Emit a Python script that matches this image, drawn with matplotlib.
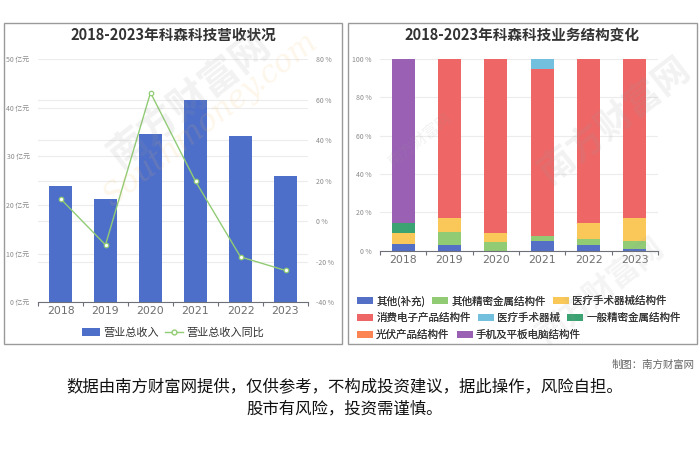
import matplotlib
matplotlib.use("Agg")
import matplotlib.pyplot as plt
from matplotlib.patches import Rectangle, Patch
from matplotlib.lines import Line2D
import numpy as np

plt.rcParams['font.family'] = ['Noto Sans CJK SC', 'DejaVu Sans']

years = ['2018', '2019', '2020', '2021', '2022', '2023']
revenue = [24.0, 21.2, 34.6, 41.5, 34.2, 25.9]      # 亿元
yoy = [11.1, -11.7, 63.4, 19.7, -17.6, -24.3]       # %

seg_names = ['其他(补充)', '其他精密金属结构件', '医疗手术器械结构件',
             '消费电子产品结构件', '医疗手术器械', '一般精密金属结构件',
             '光伏产品结构件', '手机及平板电脑结构件']
seg_colors = ['#5470c6', '#91cc75', '#fac858', '#ee6666',
              '#73c0de', '#3ba272', '#fc8452', '#9a60b4']
# share of revenue, %
other = [3.5, 3.0, 0.0, 4.9, 3.0, 1.0]
precision_other = [0.0, 6.7, 4.5, 2.9, 3.1, 4.0]
medical_parts = [5.7, 7.2, 4.5, 0.0, 8.2, 11.9]
consumer = [0.0, 83.1, 91.0, 86.8, 85.7, 83.1]
medical = [0.0, 0.0, 0.0, 5.4, 0.0, 0.0]
general = [5.4, 0.0, 0.0, 0.0, 0.0, 0.0]
pv = [0.0, 0.0, 0.0, 0.0, 0.0, 0.0]
phone = [85.4, 0.0, 0.0, 0.0, 0.0, 0.0]
segments = [other, precision_other, medical_parts, consumer, medical, general, pv, phone]

W, H = 700, 467
fig = plt.figure(figsize=(7, 4.67), dpi=100)


def px(x0, y0, x1, y1):
    # pixel box (top-left origin) -> figure fraction rect
    return [x0 / W, 1 - y1 / H, (x1 - x0) / W, (y1 - y0) / H]


# panel frames
for x0, x1 in [(4, 342), (348, 697)]:
    fig.patches.append(Rectangle((x0 / W, 1 - 344 / H), (x1 - x0) / W, (344 - 23) / H,
                                 transform=fig.transFigure, fill=False,
                                 edgecolor='#9a9a9a', linewidth=1.0))

fig.text(173 / W, 1 - 35 / H, '2018-2023年科森科技营收状况', ha='center', va='center',
         fontsize=10.5, fontweight='bold', color='#333333')
fig.text(522 / W, 1 - 35 / H, '2018-2023年科森科技业务结构变化', ha='center', va='center',
         fontsize=10.5, fontweight='bold', color='#333333')

x = np.arange(len(years))
axis_c = '#6e7079'
lab_c = '#8a8a8a'


def style_cat_axis(ax):
    for s in ['top', 'right', 'left']:
        ax.spines[s].set_visible(False)
    ax.spines['bottom'].set_color(axis_c)
    ax.spines['bottom'].set_linewidth(0.8)
    ax.set_xlim(-0.5, len(years) - 0.5)
    ax.set_xticks(x)
    ax.set_xticklabels(years, fontsize=7.8, color='#6e6e6e', family='DejaVu Sans')
    ax.tick_params(axis='x', length=0, pad=3)
    ax.set_xticks(np.arange(-0.5, len(years)), minor=True)
    ax.tick_params(axis='x', which='minor', length=3, color=axis_c, width=0.8)
    ax.tick_params(axis='y', which='both', length=0, labelsize=5, labelcolor=lab_c, pad=6)


# ---- left chart
right_ticks = list(range(-40, 81, 20))
ax1 = fig.add_axes(px(38, 59, 308, 302.3))
ax1.bar(x, revenue, width=0.5, color='#4e6fc9', zorder=2)
ax1.set_ylim(0, 50)
ax1.set_yticks(range(0, 51, 10))
ax1.set_yticklabels([f'{v} 亿元' for v in range(0, 51, 10)])
# right-axis grid lines, drawn under the bars
ax1.set_yticks([(v + 40) / 120 * 50 for v in right_ticks], minor=True)
ax1.grid(axis='y', which='both', color='#ececec', linewidth=0.8, zorder=0)
ax1.set_axisbelow(True)
style_cat_axis(ax1)

ax2 = ax1.twinx()
ax2.plot(x, yoy, color='#91cc75', linewidth=1.0, marker='o', markersize=3.2,
         markerfacecolor='white', markeredgewidth=0.9, zorder=3)
ax2.set_ylim(-40, 80)
ax2.set_yticks(right_ticks)
ax2.set_yticklabels([f'{v} %' for v in right_ticks])
for s in ['top', 'right', 'left', 'bottom']:
    ax2.spines[s].set_visible(False)
ax2.tick_params(axis='y', length=0, labelsize=5, labelcolor=lab_c, pad=6)

leg1 = fig.legend(handles=[Patch(facecolor='#4e6fc9', label='营业总收入'),
                           Line2D([], [], color='#91cc75', marker='o', markersize=3.5,
                                  markerfacecolor='white', linewidth=1, label='营业总收入同比')],
                  loc='center', bbox_to_anchor=(173 / W, 1 - 333 / H), ncol=2, frameon=False,
                  fontsize=8, handlelength=1.6, handleheight=0.7, columnspacing=0.6,
                  handletextpad=0.3, labelcolor='#333333')

# ---- right chart
ax3 = fig.add_axes(px(380, 59, 658, 250.7))
bottom = np.zeros(len(years))
for vals, c in zip(segments, seg_colors):
    ax3.bar(x, vals, bottom=bottom, width=0.5, color=c, zorder=2)
    bottom += np.array(vals)
ax3.set_ylim(0, 100)
ax3.set_yticks(range(0, 101, 20))
ax3.set_yticklabels([f'{v} %' for v in range(0, 101, 20)])
ax3.grid(axis='y', color='#ececec', linewidth=0.8, zorder=0)
ax3.set_axisbelow(True)
style_cat_axis(ax3)

rows = [[0, 1, 2], [3, 4, 5], [6, 7]]
for r, idx in enumerate(rows):
    handles = [Patch(facecolor=seg_colors[i], label=seg_names[i]) for i in idx]
    lg = fig.legend(handles=handles, loc='center left',
                    bbox_to_anchor=(355 / W, 1 - (301 + 17 * r) / H), ncol=len(idx),
                    frameon=False, fontsize=7.6, handlelength=1.5, handleheight=0.7,
                    columnspacing=0.7, handletextpad=0.3, labelcolor='#333333',
                    borderaxespad=0, borderpad=0.2)
    fig.add_artist(lg)

# ---- watermarks (faint)
wm = dict(ha='center', va='center', zorder=10)
fig.text(190 / W, 1 - 100 / H, '南方财富网', fontsize=28, color='#9a9a9a', alpha=0.13,
         rotation=38, fontweight='bold', **wm)
fig.text(210 / W, 1 - 120 / H, 'Southmoney.com', fontsize=22, color='#f5b860', alpha=0.13,
         rotation=38, style='italic', family='DejaVu Serif', **wm)
fig.text(615 / W, 1 - 120 / H, '南方财富网', fontsize=26, color='#9a9a9a', alpha=0.13,
         rotation=38, fontweight='bold', **wm)
fig.text(600 / W, 1 - 290 / H, '南方财富网', fontsize=22, color='#9a9a9a', alpha=0.11,
         rotation=38, fontweight='bold', **wm)
fig.text(420 / W, 1 - 140 / H, '南方财富网', fontsize=11, color='#9a9a9a', alpha=0.13,
         rotation=38, **wm)

# ---- footer
fig.text(695 / W, 1 - 365 / H, '制图：南方财富网', ha='right', va='center',
         fontsize=7.5, color='#666666')
fig.text(345 / W, 1 - 387 / H, '数据由南方财富网提供，仅供参考，不构成投资建议，据此操作，风险自担。',
         ha='center', va='center', fontsize=11.8, color='#111111')
fig.text(345 / W, 1 - 409 / H, '股市有风险，投资需谨慎。',
         ha='center', va='center', fontsize=11.8, color='#111111')

fig.savefig('out.png', dpi=100, facecolor='white')
